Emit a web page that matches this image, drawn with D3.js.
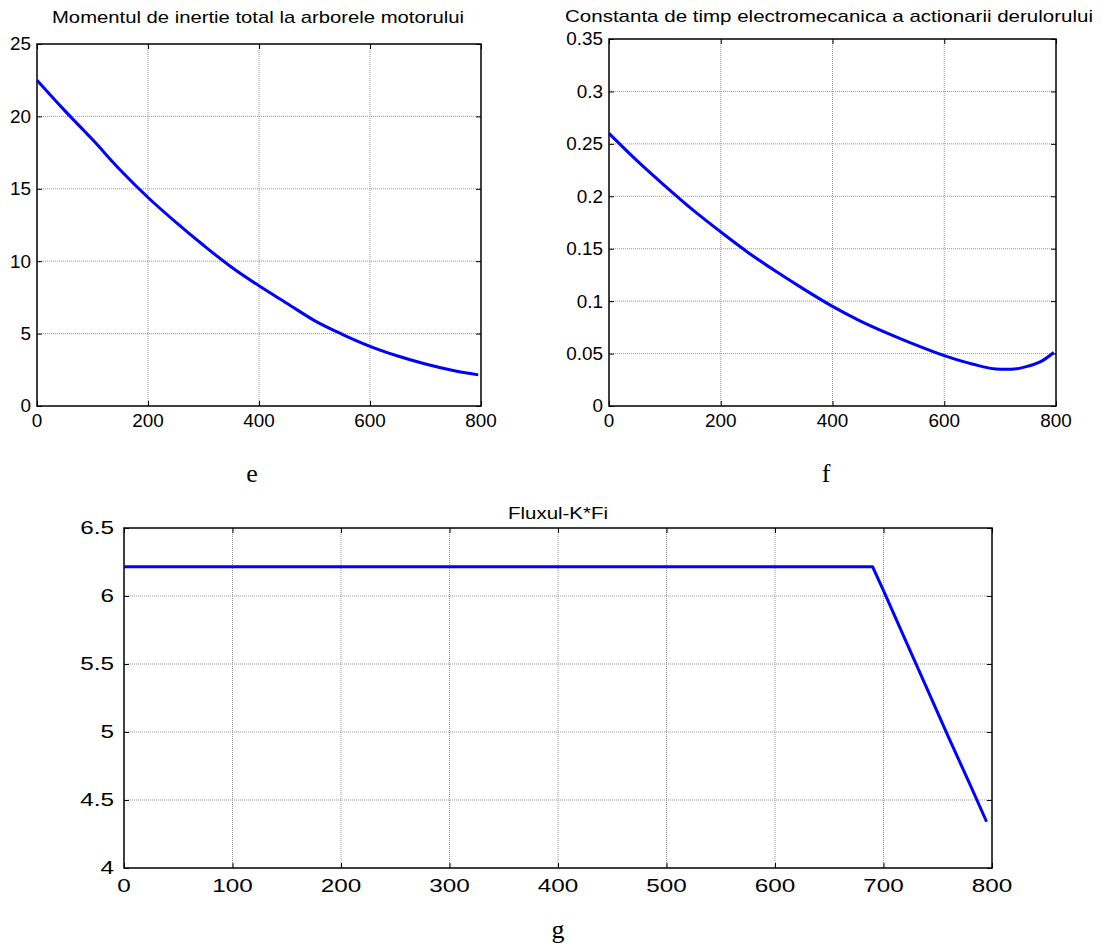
<!DOCTYPE html>
<html>
<head>
<meta charset="utf-8">
<script src="https://cdn.jsdelivr.net/npm/d3@7"></script>
<style>
  html, body { margin: 0; padding: 0; background: #fff; }
  svg { display: block; }
  text { font-family: "Liberation Sans", Arial, sans-serif; fill: #000; }
  .caption { font-family: "Liberation Serif", "Times New Roman", serif; }
</style>
</head>
<body>
<svg id="fig" width="1101" height="948"></svg>
<script>
// Total moment of inertia at the motor shaft
const momentX = [0, 50, 100, 150, 200, 250, 300, 350, 400, 450, 500, 550, 600, 650, 700, 750, 795];
const momentY = [22.5, 20.4, 18.4, 16.3, 14.4, 12.7, 11.1, 9.6, 8.3, 7.1, 5.9, 4.95, 4.12, 3.45, 2.9, 2.45, 2.15];

// Electromechanical time constant of the peeler drive
const timeX = [0, 50, 100, 150, 200, 250, 300, 350, 400, 450, 500, 550, 600, 650, 700, 720, 750, 775, 796];
const timeY = [0.26, 0.234, 0.21, 0.187, 0.166, 0.146, 0.128, 0.111, 0.095, 0.081, 0.069, 0.058, 0.048, 0.040, 0.035, 0.035, 0.038, 0.043, 0.051];

// Flux K*Fi
const fluxX = [0, 100, 200, 300, 400, 500, 600, 690, 700, 720, 740, 760, 780, 795];
const fluxY = [6.215, 6.215, 6.215, 6.215, 6.215, 6.215, 6.215, 6.215, 6.04, 5.68, 5.32, 4.96, 4.61, 4.34];

// Tick values per panel
const momentXTicks = [0, 200, 400, 600, 800];
const momentYTicks = [0, 5, 10, 15, 20, 25];
const timeXTicks = [0, 200, 400, 600, 800];
const timeYTicks = [0, 0.05, 0.1, 0.15, 0.2, 0.25, 0.3, 0.35];
const fluxXTicks = [0, 100, 200, 300, 400, 500, 600, 700, 800];
const fluxYTicks = [4, 4.5, 5, 5.5, 6, 6.5];

const svg = d3.select("#fig");

function panel(opt) {
  const x = d3.scaleLinear().domain(opt.xDomain).range([opt.left, opt.right]);
  const y = d3.scaleLinear().domain(opt.yDomain).range([opt.bottom, opt.top]);
  const g = svg.append("g");

  // dotted grid
  g.append("g").selectAll("line").data(opt.xTicks.slice(1, -1)).join("line")
    .attr("x1", d => x(d)).attr("x2", d => x(d))
    .attr("y1", opt.top).attr("y2", opt.bottom)
    .attr("stroke", "#999").attr("stroke-width", 1).attr("stroke-dasharray", "1,1");
  g.append("g").selectAll("line").data(opt.yTicks.slice(1, -1)).join("line")
    .attr("y1", d => y(d)).attr("y2", d => y(d))
    .attr("x1", opt.left).attr("x2", opt.right)
    .attr("stroke", "#999").attr("stroke-width", 1).attr("stroke-dasharray", "1,1");

  // inward ticks on all four sides
  const tk = 5;
  const axes = [
    [d3.axisBottom(x).tickValues(opt.xTicks), `translate(0,${opt.bottom})`],
    [d3.axisTop(x).tickValues(opt.xTicks), `translate(0,${opt.top})`],
    [d3.axisLeft(y).tickValues(opt.yTicks), `translate(${opt.left},0)`],
    [d3.axisRight(y).tickValues(opt.yTicks), `translate(${opt.right},0)`]
  ];
  axes.forEach(([ax, tr]) => {
    const a = g.append("g").attr("transform", tr)
      .call(ax.tickSize(-tk).tickFormat(""));
    a.select(".domain").remove();
    a.selectAll(".tick line").attr("stroke", "#000").attr("stroke-width", 1);
  });

  // frame
  g.append("rect")
    .attr("x", opt.left).attr("y", opt.top)
    .attr("width", opt.right - opt.left).attr("height", opt.bottom - opt.top)
    .attr("fill", "none").attr("stroke", "#000").attr("stroke-width", 1.5);

  // tick labels
  const sx = opt.stretch;
  g.append("g").selectAll("text").data(opt.xTicks).join("text")
    .attr("transform", d => `translate(${x(d)},${opt.bottom + opt.xLabelDy}) scale(${sx},1)`)
    .attr("text-anchor", "middle")
    .attr("font-size", opt.fontSize)
    .text(d => d3.format("")(d));
  g.append("g").selectAll("text").data(opt.yTicks).join("text")
    .attr("transform", d => `translate(${opt.left - opt.yLabelDx},${y(d) + opt.fontSize * 0.36}) scale(${sx},1)`)
    .attr("text-anchor", "end")
    .attr("font-size", opt.fontSize)
    .text(d => d3.format("")(d));

  // title
  g.append("text")
    .attr("x", opt.titleX).attr("y", opt.titleY)
    .attr("text-anchor", "middle")
    .attr("font-size", opt.titleSize)
    .attr("textLength", opt.titleWidth).attr("lengthAdjust", "spacingAndGlyphs")
    .text(opt.title);

  // series
  const line = d3.line().curve(opt.curve).x(d => x(d[0])).y(d => y(d[1]));
  g.append("path")
    .datum(d3.zip(opt.xs, opt.ys))
    .attr("d", line)
    .attr("fill", "none").attr("stroke", "#0000ff").attr("stroke-width", 3)
    .attr("stroke-linejoin", "round");

  // caption letter
  svg.append("text").attr("class", "caption")
    .attr("x", opt.capX).attr("y", opt.capY)
    .attr("text-anchor", "middle").attr("font-size", 26)
    .text(opt.caption);
}

panel({
  left: 37, right: 481, top: 44, bottom: 406,
  xDomain: [0, 800], yDomain: [0, 25],
  xTicks: momentXTicks, yTicks: momentYTicks,
  xs: momentX, ys: momentY, curve: d3.curveMonotoneX,
  fontSize: 18, stretch: 1.05, xLabelDy: 21, yLabelDx: 6,
  title: "Momentul de inertie total la arborele motorului",
  titleX: 258, titleY: 23, titleSize: 17, titleWidth: 412,
  caption: "e", capX: 252, capY: 482
});

panel({
  left: 609, right: 1056, top: 39, bottom: 406,
  xDomain: [0, 800], yDomain: [0, 0.35],
  xTicks: timeXTicks, yTicks: timeYTicks,
  xs: timeX, ys: timeY, curve: d3.curveMonotoneX,
  fontSize: 18, stretch: 1.05, xLabelDy: 21, yLabelDx: 6,
  title: "Constanta de timp electromecanica a actionarii derulorului",
  titleX: 829, titleY: 22, titleSize: 17, titleWidth: 528,
  caption: "f", capX: 826, capY: 482
});

panel({
  left: 124, right: 992, top: 528, bottom: 868,
  xDomain: [0, 800], yDomain: [4, 6.5],
  xTicks: fluxXTicks, yTicks: fluxYTicks,
  xs: fluxX, ys: fluxY, curve: d3.curveLinear,
  fontSize: 18, stretch: 1.35, xLabelDy: 24, yLabelDx: 10,
  title: "Fluxul-K*Fi",
  titleX: 558, titleY: 519, titleSize: 17, titleWidth: 100,
  caption: "g", capX: 558, capY: 938
});
</script>
</body>
</html>
